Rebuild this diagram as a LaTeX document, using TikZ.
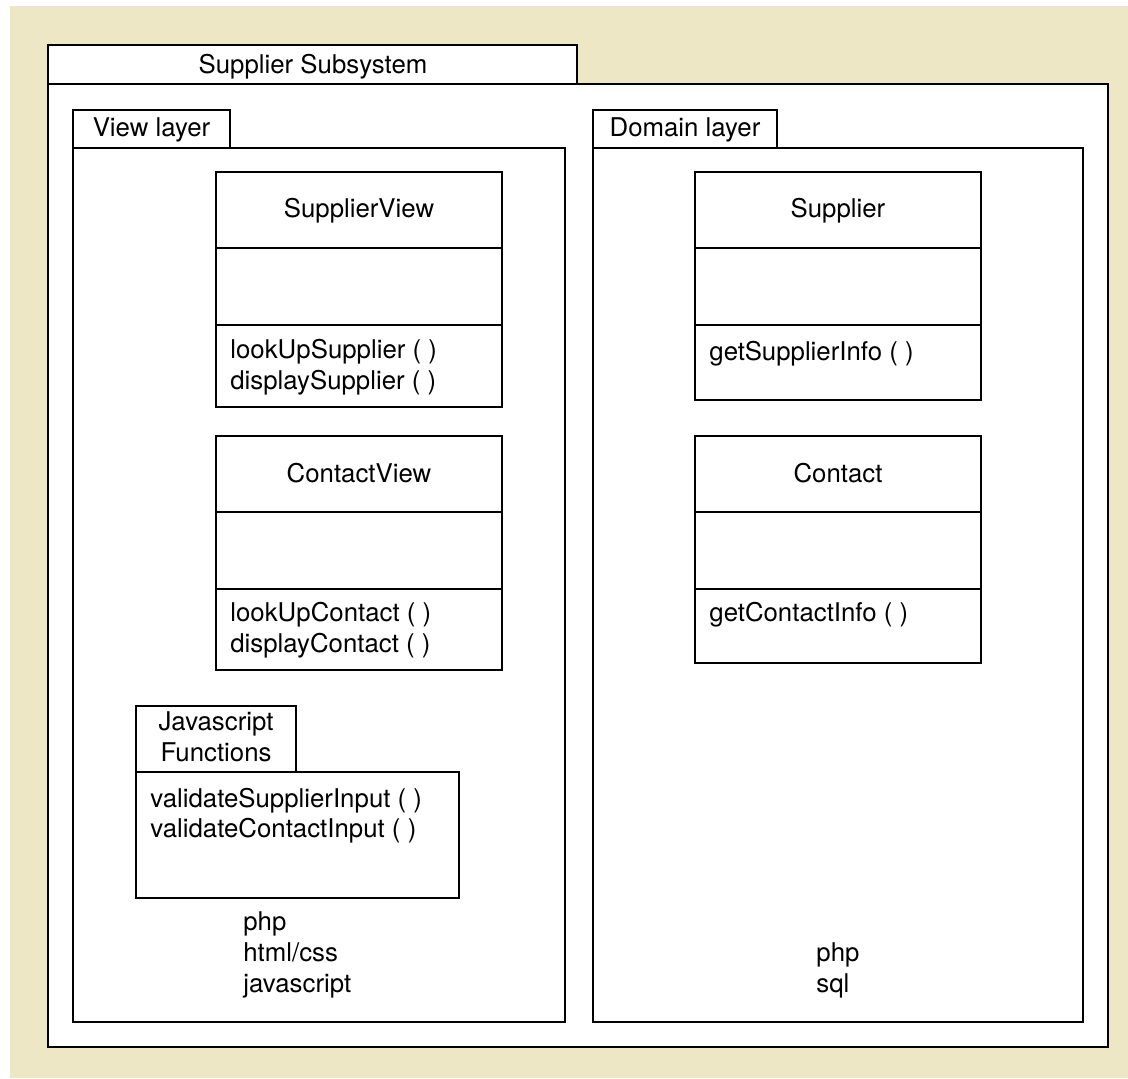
\documentclass[tikz,border=0pt]{standalone}
\usepackage{fontspec}
\setmainfont{TeX Gyre Heros}
\definecolor{paper}{RGB}{237,231,197}
\tikzset{%
    box/.style={draw=black,fill=white,line width=1.4pt},
    lbl/.style={inner sep=0pt,font=\fontsize{12.9}{15.5}\selectfont}
}

\begin{document}
\begin{tikzpicture}[
        x=0.5pt, y=-0.5pt,
        ctr/.style={lbl,anchor=base},
        lft/.style={lbl,anchor=base west}
        ]
        \useasboundingbox (0,0) rectangle (1128,1078);
        \fill[paper] (10,6) rectangle (1128,1078);

        % subsystem package
        \draw[box] (48,45) rectangle (577,84);
        \draw[box] (48,84) rectangle (1108,1047);
        \node[ctr] (subsys) at (313,73) {Supplier Subsystem};

        % view layer package
        \draw[box] (73,110) rectangle (230,148);
        \draw[box] (73,148) rectangle (565,1022);
        \node[ctr] (viewlbl) at (151.5,136) {View layer};

        % domain layer package
        \draw[box] (593,110) rectangle (777,148);
        \draw[box] (593,148) rectangle (1083,1022);
        \node[ctr] (domainlbl) at (685,136) {Domain layer};

        % SupplierView class
        \draw[box] (216,172) rectangle (502,407);
        \draw[box] (216,248) -- (502,248);
        \draw[box] (216,325) -- (502,325);
        \node[ctr] (supview) at (359,217) {SupplierView};
        \node[lft] (supview1) at (230,358) {lookUpSupplier ( )};
        \node[lft] (supview2) at (230,389) {displaySupplier ( )};

        % ContactView class
        \draw[box] (216,436) rectangle (502,670);
        \draw[box] (216,512) -- (502,512);
        \draw[box] (216,589) -- (502,589);
        \node[ctr] (conview) at (359,482) {ContactView};
        \node[lft] (conview1) at (230,621) {lookUpContact ( )};
        \node[lft] (conview2) at (230,652) {displayContact ( )};

        % Supplier class
        \draw[box] (695,172) rectangle (981,400);
        \draw[box] (695,248) -- (981,248);
        \draw[box] (695,325) -- (981,325);
        \node[ctr] (sup) at (838,217) {Supplier};
        \node[lft] (sup1) at (709,360) {getSupplierInfo ( )};

        % Contact class
        \draw[box] (695,436) rectangle (981,663);
        \draw[box] (695,512) -- (981,512);
        \draw[box] (695,589) -- (981,589);
        \node[ctr] (con) at (838,482) {Contact};
        \node[lft] (con1) at (709,621) {getContactInfo ( )};

        % javascript package
        \draw[box] (136,706) rectangle (296,772);
        \draw[box] (136,772) rectangle (459,898);
        \node[ctr] (jslbl1) at (216,730) {Javascript};
        \node[ctr] (jslbl2) at (216,761) {Functions};
        \node[lft] (js1) at (150,807) {validateSupplierInput ( )};
        \node[lft] (js2) at (150,837) {validateContactInput ( )};

        % technologies
        \node[lft] (viewtech1) at (243,930) {php};
        \node[lft] (viewtech2) at (243,961) {html/css};
        \node[lft] (viewtech3) at (243,992) {javascript};
        \node[lft] (domtech1) at (816,961) {php};
        \node[lft] (domtech2) at (816,992) {sql};
    \end{tikzpicture}
\end{document}
